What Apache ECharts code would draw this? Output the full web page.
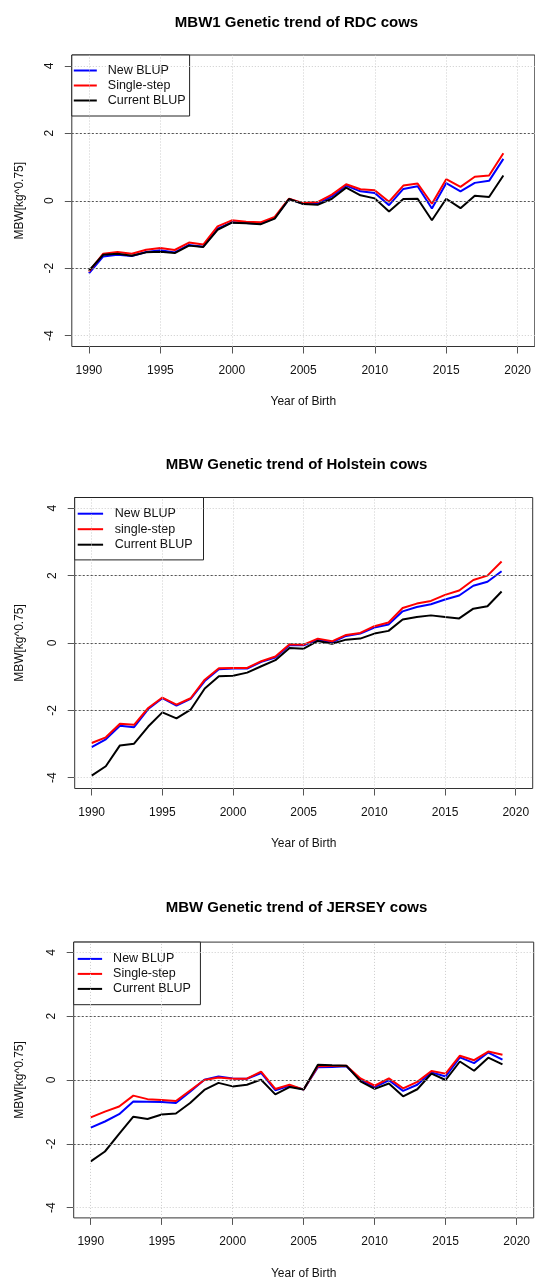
<!DOCTYPE html>
<html>
<head>
<meta charset="utf-8">
<script src="https://cdn.jsdelivr.net/npm/echarts@6/dist/echarts.min.js"></script>
<style>html,body{margin:0;padding:0;background:#fff;}#c{width:535px;height:1282px;}</style>
</head>
<body>
<div id="c"></div>
<script>
var years = [1990,1991,1992,1993,1994,1995,1996,1997,1998,1999,2000,2001,2002,2003,2004,2005,2006,2007,2008,2009,2010,2011,2012,2013,2014,2015,2016,2017,2018,2019];
var xTicks = [1990,1995,2000,2005,2010,2015,2020];
var yTicks = [-4,-2,0,2,4];
var refLines = [-2,0,2];

var titles = ['MBW1 Genetic trend of RDC cows','MBW Genetic trend of Holstein cows','MBW Genetic trend of JERSEY cows'];
var xLabel = 'Year of Birth';
var yLabel = 'MBW[kg^0.75]';
var legendNames1 = ['New BLUP','Single-step','Current BLUP'];
var legendNames2 = ['New BLUP','single-step','Current BLUP'];
var legendNames3 = ['New BLUP','Single-step','Current BLUP'];

var rdcNew = [-2.15,-1.65,-1.6,-1.64,-1.52,-1.47,-1.53,-1.31,-1.36,-0.83,-0.64,-0.66,-0.68,-0.51,0.05,-0.09,-0.09,0.13,0.45,0.28,0.23,-0.13,0.35,0.43,-0.23,0.52,0.28,0.53,0.59,1.24];
var rdcSS  = [-2.1,-1.57,-1.52,-1.57,-1.45,-1.4,-1.46,-1.24,-1.3,-0.76,-0.58,-0.62,-0.64,-0.48,0.06,-0.07,-0.04,0.18,0.49,0.34,0.31,-0.03,0.45,0.51,-0.09,0.64,0.41,0.71,0.75,1.41];
var rdcCur = [-2.07,-1.6,-1.57,-1.63,-1.53,-1.51,-1.55,-1.33,-1.37,-0.86,-0.65,-0.67,-0.7,-0.53,0.05,-0.1,-0.12,0.06,0.39,0.16,0.07,-0.32,0.05,0.06,-0.58,0.06,-0.22,0.15,0.11,0.75];

var holNew = [-3.09,-2.86,-2.46,-2.5,-1.96,-1.64,-1.86,-1.66,-1.13,-0.78,-0.76,-0.76,-0.56,-0.43,-0.07,-0.07,0.1,0.02,0.21,0.28,0.46,0.55,0.94,1.07,1.15,1.29,1.41,1.7,1.82,2.13];
var holSS  = [-2.97,-2.8,-2.4,-2.43,-1.93,-1.62,-1.83,-1.64,-1.09,-0.75,-0.74,-0.74,-0.54,-0.4,-0.04,-0.05,0.13,0.05,0.24,0.3,0.5,0.61,1.04,1.17,1.25,1.43,1.56,1.87,2.0,2.42];
var holCur = [-3.94,-3.66,-3.04,-2.99,-2.48,-2.06,-2.24,-1.98,-1.35,-0.99,-0.97,-0.88,-0.69,-0.51,-0.15,-0.17,0.06,-0.02,0.1,0.13,0.28,0.36,0.7,0.77,0.82,0.77,0.73,1.02,1.09,1.53];

var jerNew = [-1.49,-1.3,-1.07,-0.67,-0.68,-0.69,-0.72,-0.37,0.01,0.11,0.05,0.04,0.22,-0.32,-0.18,-0.3,0.4,0.41,0.43,0.01,-0.22,-0.01,-0.34,-0.15,0.24,0.11,0.71,0.53,0.86,0.64];
var jerSS  = [-1.17,-0.99,-0.83,-0.49,-0.6,-0.63,-0.66,-0.33,0,0.08,0.04,0.04,0.26,-0.28,-0.15,-0.3,0.43,0.44,0.45,0.05,-0.18,0.05,-0.26,-0.06,0.28,0.2,0.76,0.62,0.89,0.79];
var jerCur = [-2.55,-2.24,-1.69,-1.15,-1.22,-1.08,-1.05,-0.72,-0.31,-0.09,-0.2,-0.15,0.01,-0.45,-0.22,-0.3,0.48,0.46,0.45,-0.04,-0.28,-0.11,-0.51,-0.29,0.2,0.0,0.58,0.29,0.7,0.49];

var FONT = "'Liberation Sans', Arial, Helvetica, sans-serif";
var panels = [
  {grid:{left:71.8, top:55, width:463, height:291.5}, titleY:23, names:legendNames1, data:[rdcNew,rdcSS,rdcCur],
   legend:{padding:[9,4,9,2], itemWidth:23, itemGap:2, textPad:6}},
  {grid:{left:74.7, top:497.5, width:458, height:291}, titleY:465, names:legendNames2, data:[holNew,holSS,holCur],
   legend:{padding:[9.7,11,8.7,3], itemWidth:25.4, itemGap:2.5, textPad:6.6}},
  {grid:{left:73.7, top:942.1, width:460, height:275.8}, titleY:908.3, names:legendNames3, data:[jerNew,jerSS,jerCur],
   legend:{padding:[10.3,9.5,9.3,4], itemWidth:24.4, itemGap:2, textPad:6}}
];
var colors = ['#0000ff','#ff0000','#000000'];

function plain(v){ return String(v); }

var option = {animation:false, backgroundColor:'#ffffff', grid:[], xAxis:[], yAxis:[], series:[], legend:[], graphic:[]};
panels.forEach(function(p, i){
  option.grid.push({left:p.grid.left, top:p.grid.top, width:p.grid.width, height:p.grid.height, show:true, borderColor:'#333', borderWidth:1, backgroundColor:'transparent'});
  option.xAxis.push({type:'value', gridIndex:i, min:1988.8, max:2021.2,
    splitLine:{show:false}, axisLine:{show:false, onZero:false},
    axisTick:{show:true, customValues:xTicks, length:7, lineStyle:{color:'#555'}},
    axisLabel:{customValues:xTicks, formatter:plain, margin:18, color:'#111', fontSize:12, fontFamily:FONT},
    name:xLabel, nameLocation:'middle', nameGap:49.5, nameTextStyle:{color:'#111', fontSize:12, fontFamily:FONT}});
  option.yAxis.push({type:'value', gridIndex:i, min:-4.32, max:4.32,
    splitLine:{show:false}, axisLine:{show:false, onZero:false},
    axisTick:{show:true, customValues:yTicks, length:7, lineStyle:{color:'#555'}},
    axisLabel:{customValues:yTicks, formatter:plain, margin:16.5, rotate:90, color:'#111', fontSize:12, fontFamily:FONT},
    name:yLabel, nameLocation:'middle', nameRotate:90, nameGap:p.grid.left-26, nameTextStyle:{color:'#111', fontSize:12, fontFamily:FONT}});
  var gl = xTicks.map(function(v){return {xAxis:v};}).concat(yTicks.map(function(v){return {yAxis:v};}));
  option.series.push({type:'line', xAxisIndex:i, yAxisIndex:i, data:[], silent:true, z:1,
    markLine:{silent:true, symbol:['none','none'], label:{show:false}, animation:false,
      lineStyle:{color:'#cccccc', type:[1,2], width:1}, data:gl}});
  option.series.push({type:'line', xAxisIndex:i, yAxisIndex:i, data:[], silent:true, z:1,
    markLine:{silent:true, symbol:['none','none'], label:{show:false}, animation:false,
      lineStyle:{color:'#555555', type:[2,2], width:1}, data:refLines.map(function(v){return {yAxis:v};})}});
  p.data.forEach(function(arr, k){
    option.series.push({type:'line', name:p.names[k], xAxisIndex:i, yAxisIndex:i, z:2+k,
      data:years.map(function(y, j){return [y, arr[j]];}),
      symbol:'none', lineStyle:{color:colors[k], width:2}, itemStyle:{color:colors[k]}});
  });
  var w = p.legend.itemWidth;
  option.legend.push({orient:'vertical', left:p.grid.left, top:p.grid.top, padding:p.legend.padding,
    icon:'path://M0,0H' + w + 'V2H0Z', symbolKeepAspect:true,
    itemWidth:w, itemHeight:14, itemGap:p.legend.itemGap, selectedMode:false,
    borderColor:'#222', borderWidth:1, backgroundColor:'#fff', data:p.names,
    textStyle:{fontSize:12.5, fontFamily:FONT, color:'#111', padding:[0,0,0,p.legend.textPad]}});
  option.graphic.push({type:'text', x:296.5, y:p.titleY, z:10,
    style:{text:titles[i], font:'bold 15px ' + FONT, fill:'#000', textAlign:'center', textVerticalAlign:'middle'}});
});

var chart = echarts.init(document.getElementById('c'), null, {renderer:'canvas'});
chart.setOption(option);
</script>
</body>
</html>
